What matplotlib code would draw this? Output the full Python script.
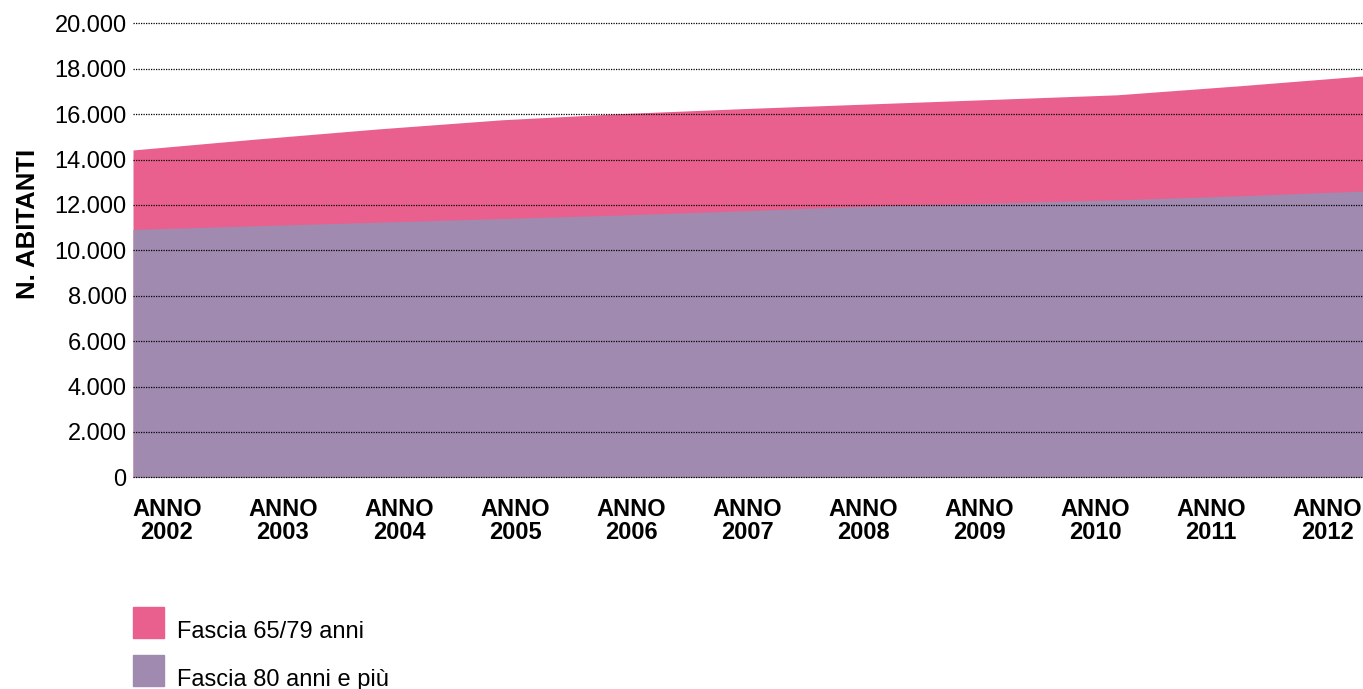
import matplotlib.pyplot as plt
from matplotlib.patches import Rectangle
from matplotlib.ticker import FuncFormatter

# ---------------------------------------------------------------------------
# Data (number of inhabitants per year)
# ---------------------------------------------------------------------------
YEARS = [2002, 2003, 2004, 2005, 2006, 2007, 2008, 2009, 2010, 2011, 2012]
FASCIA_65_79 = [14420, 14900, 15350, 15750, 16030, 16250, 16450, 16650,
                16850, 17250, 17680]
FASCIA_80_PIU = [10920, 11080, 11240, 11400, 11560, 11750, 11950, 12080,
                 12220, 12400, 12610]
Y_TICKS = [0, 2000, 4000, 6000, 8000, 10000, 12000, 14000, 16000, 18000, 20000]

PINK = "#E9608E"
PURPLE = "#A08AB0"
FONT = "Liberation Sans"

plt.rcParams["font.family"] = [FONT, "DejaVu Sans"]

W, H = 1363, 689
fig = plt.figure(figsize=(W / 100, H / 100), dpi=100)
ax = fig.add_axes([133 / W, 1 - 477.3 / H, 1 - 133 / W, (477.3 - 23.3) / H])

x = list(range(len(YEARS)))
ax.fill_between(x, 0, FASCIA_65_79, color=PINK, linewidth=0, zorder=1)
ax.fill_between(x, 0, FASCIA_80_PIU, color=PURPLE, linewidth=0, zorder=2)

ax.set_xlim(0, len(YEARS) - 1)
ax.set_ylim(0, 20000)
ax.set_yticks(Y_TICKS)
ax.yaxis.set_major_formatter(
    FuncFormatter(lambda v, _: f"{int(v):,}".replace(",", ".")))
ax.tick_params(axis="y", length=0, pad=4.5, labelsize=17)
ax.set_xticks([])

# dotted grid drawn over the areas
for v in Y_TICKS:
    ax.axhline(v, color="black", linewidth=0.9, linestyle=(0, (1, 1)),
               zorder=3, clip_on=False)

for s in ax.spines.values():
    s.set_visible(False)

# year labels sit on their own scale, slightly offset from the data points
ax2 = ax.twiny()
ax2.set_xlim(-0.293, 10.31)
ax2.xaxis.set_ticks_position("bottom")
ax2.set_xticks(x)
ax2.set_xticklabels([f"ANNO\n{y}" for y in YEARS], fontweight="bold",
                    fontsize=17, linespacing=1.0)
ax2.tick_params(axis="x", length=0, pad=15)
for s in ax2.spines.values():
    s.set_visible(False)

fig.text(28 / W, 1 - 224 / H, "N. ABITANTI", rotation=90, fontsize=18.5,
         fontweight="bold", ha="center", va="center")

# legend drawn by hand: squares with labels beside them
legend = [(PINK, "Fascia 65/79 anni", 607), (PURPLE, "Fascia 80 anni e più", 655)]
for color, label, top in legend:
    fig.patches.append(Rectangle((133 / W, 1 - (top + 31) / H), 31 / W, 31 / H,
                                 transform=fig.transFigure, color=color))
    fig.text(177 / W, 1 - (top + 31) / H, label, fontsize=17,
             ha="left", va="baseline")

fig.savefig("out.png", dpi=100)
